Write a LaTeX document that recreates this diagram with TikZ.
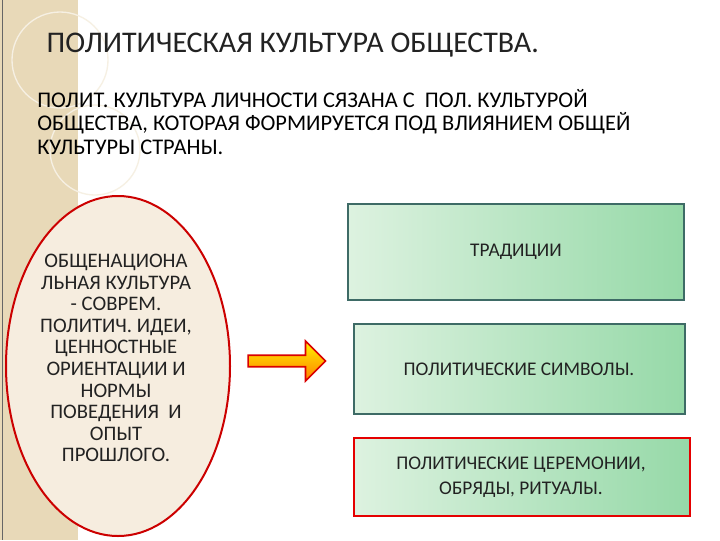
\documentclass[tikz,border=0pt]{standalone}
\usepackage{fontspec}
\setmainfont{Carlito}
\usetikzlibrary{shapes.arrows}
\definecolor{strip}{HTML}{E8D9B8}
\definecolor{cream}{HTML}{F6EDDF}
\definecolor{boxdark}{HTML}{3E6B66}
\definecolor{gA}{HTML}{DDF2E0}
\definecolor{gB}{HTML}{96D9A8}
\definecolor{txt}{HTML}{222222}
\tikzset{
  gbox/.style={draw=boxdark, line width=1.2pt, left color=gA, right color=gB},
  btext/.style={text=txt, align=center, font=\fontsize{14.5}{18.8}\selectfont},
}
\begin{document}
\begin{tikzpicture}[x=0.75pt,y=-0.75pt]
\useasboundingbox (0,0) rectangle (720,540);
\fill[white] (0,0) rectangle (720,540);
\fill[strip] (0,0) rectangle (78,540);
\draw[white!60!strip, line width=1pt] (60,60) circle (48);
\draw[white!60!strip, line width=1pt] (95,150) circle (45);
\draw[black!60, line width=0.6pt] (2,0) -- (2,540);
\node[anchor=west, text=txt, font=\fontsize{22.5}{26}\selectfont] (title) at (42,45) {ПОЛИТИЧЕСКАЯ КУЛЬТУРА ОБЩЕСТВА.};
\node[anchor=north west, text=black, align=left, inner sep=0pt, font=\fontsize{16.8}{17.6}\selectfont] (para) at (37,89) {ПОЛИТ. КУЛЬТУРА ЛИЧНОСТИ СЯЗАНА С \ ПОЛ. КУЛЬТУРОЙ\\ОБЩЕСТВА, КОТОРАЯ ФОРМИРУЕТСЯ ПОД ВЛИЯНИЕМ ОБЩЕЙ\\КУЛЬТУРЫ СТРАНЫ.};
\draw[red!80!black, fill=cream, line width=1.5pt] (118,366) ellipse [x radius=112, y radius=170];
\node[text=txt, align=center, font=\fontsize{15.5}{16.2}\selectfont] (ell) at (116,358) {ОБЩЕНАЦИОНА\\ЛЬНАЯ КУЛЬТУРА\\- СОВРЕМ.\\ПОЛИТИЧ. ИДЕИ,\\ЦЕННОСТНЫЕ\\ОРИЕНТАЦИИ И\\НОРМЫ\\ПОВЕДЕНИЯ \ И\\ОПЫТ\\ПРОШЛОГО.};
\node[single arrow, draw=red!85!black, line width=1.2pt, top color=yellow!90!orange, bottom color=orange, minimum width=30pt, single arrow head extend=4pt, minimum height=58pt, inner sep=1pt] (arr) at (284,361) {};
\path[gbox] (348,204) rectangle (684,300);
\node[btext] (b1) at (516,252) {ТРАДИЦИИ};
\path[gbox] (354,324) rectangle (685,414);
\node[btext] (b2) at (519,369) {ПОЛИТИЧЕСКИЕ СИМВОЛЫ.};
\path[gbox, draw=red!90!black] (354,438) rectangle (690,516);
\node[btext] (b3) at (521,477) {ПОЛИТИЧЕСКИЕ ЦЕРЕМОНИИ,\\ОБРЯДЫ, РИТУАЛЫ.};
\end{tikzpicture}
\end{document}
